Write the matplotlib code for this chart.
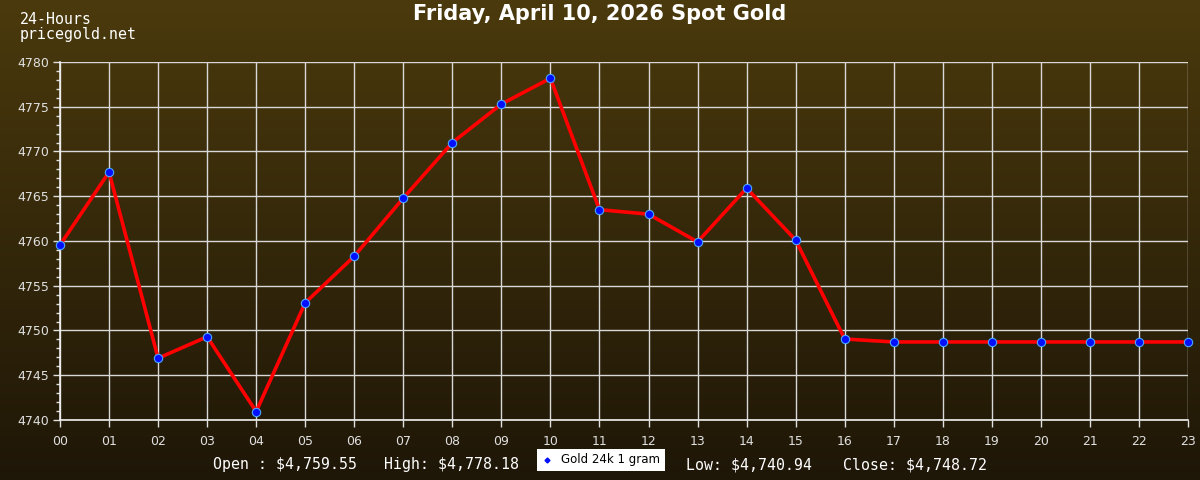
import matplotlib
matplotlib.use('Agg')
import matplotlib.pyplot as plt
import numpy as np

# Hourly spot gold prices
hours = ['00', '01', '02', '03', '04', '05', '06', '07', '08', '09', '10', '11',
         '12', '13', '14', '15', '16', '17', '18', '19', '20', '21', '22', '23']
prices = [4759.55, 4767.7, 4746.9, 4749.3, 4740.94, 4753.1, 4758.3, 4764.8,
          4771.0, 4775.3, 4778.18, 4763.5, 4763.0, 4759.9, 4765.9, 4760.1,
          4749.05, 4748.72, 4748.72, 4748.72, 4748.72, 4748.72, 4748.72, 4748.72]
yticks = [4740, 4745, 4750, 4755, 4760, 4765, 4770, 4775, 4780]

title = 'Friday, April 10, 2026 Spot Gold'
stats = [('Open : $4,759.55', 213), ('High: $4,778.18', 384),
         ('Low: $4,740.94', 686), ('Close: $4,748.72', 843)]
series_name = 'Gold 24k 1 gram'

W, H = 1200, 480
fig = plt.figure(figsize=(12, 4.8), dpi=100)

# gradient background
bg = fig.add_axes([0, 0, 1, 1], zorder=-10)
top = np.array([75, 58, 13]) / 255.0
bot = np.array([30, 22, 7]) / 255.0
t = np.linspace(0, 1, 256)[:, None]
grad = top * (1 - t) + bot * t
bg.imshow(grad[:, None, :], aspect='auto', extent=[0, 1, 0, 1])
bg.axis('off')

ax = fig.add_axes([60 / W, 1 - 420 / H, (1188 - 60) / W, (420 - 62) / H])
ax.patch.set_alpha(0)
x = np.arange(len(hours))
ax.plot(x, prices, color='#ff0000', lw=2.6, zorder=3)
ax.plot(x, prices, ls='none', marker='o', ms=6, mfc='#0010ff', mec='#4aa8ff',
        mew=0.8, zorder=4, clip_on=False)

ax.set_xlim(0, 23)
ax.set_ylim(4740, 4780)
ax.set_xticks(x)
ax.set_xticklabels(hours)
ax.set_yticks(yticks)
ax.set_yticks(np.arange(4740, 4781, 1), minor=True)
ax.grid(True, color='#d8d8d8', lw=1, zorder=1)
ax.tick_params(axis='both', colors='#e0e0e0', labelsize=9, length=5, width=1)
ax.tick_params(axis='y', which='minor', colors='#e0e0e0', length=3, width=1)
ax.tick_params(axis='x', pad=6)
ax.tick_params(axis='y', pad=3)
for s in ['top', 'right']:
    ax.spines[s].set_visible(False)
for s in ['left', 'bottom']:
    ax.spines[s].set_color('#f0f0f0')
    ax.spines[s].set_linewidth(1.2)

fig.text(600 / W, 1 - 14 / H, title, ha='center', va='center', fontsize=15,
         fontweight='bold', color='white', family='DejaVu Sans')
fig.text(20 / W, 1 - 19 / H, '24-Hours', ha='left', va='center', fontsize=10.7,
         color='white', family='DejaVu Sans Mono')
fig.text(20 / W, 1 - 34 / H, 'pricegold.net', ha='left', va='center', fontsize=10.7,
         color='white', family='DejaVu Sans Mono')

for label, px in stats:
    fig.text(px / W, 1 - 465 / H, label, ha='left', va='center', fontsize=10.7,
             color='white', family='DejaVu Sans Mono')

# legend box
lg = fig.add_axes([537 / W, 1 - 471 / H, 128 / W, 22 / H])
lg.set_xlim(0, 128)
lg.set_ylim(0, 22)
lg.set_facecolor('white')
lg.set_xticks([])
lg.set_yticks([])
for s in lg.spines.values():
    s.set_visible(False)
lg.plot([10], [11], marker='D', ms=2.5, color='#0010ff')
lg.text(24, 11, series_name, ha='left', va='center', fontsize=8.5, color='black')

fig.savefig('out.png', dpi=100)
